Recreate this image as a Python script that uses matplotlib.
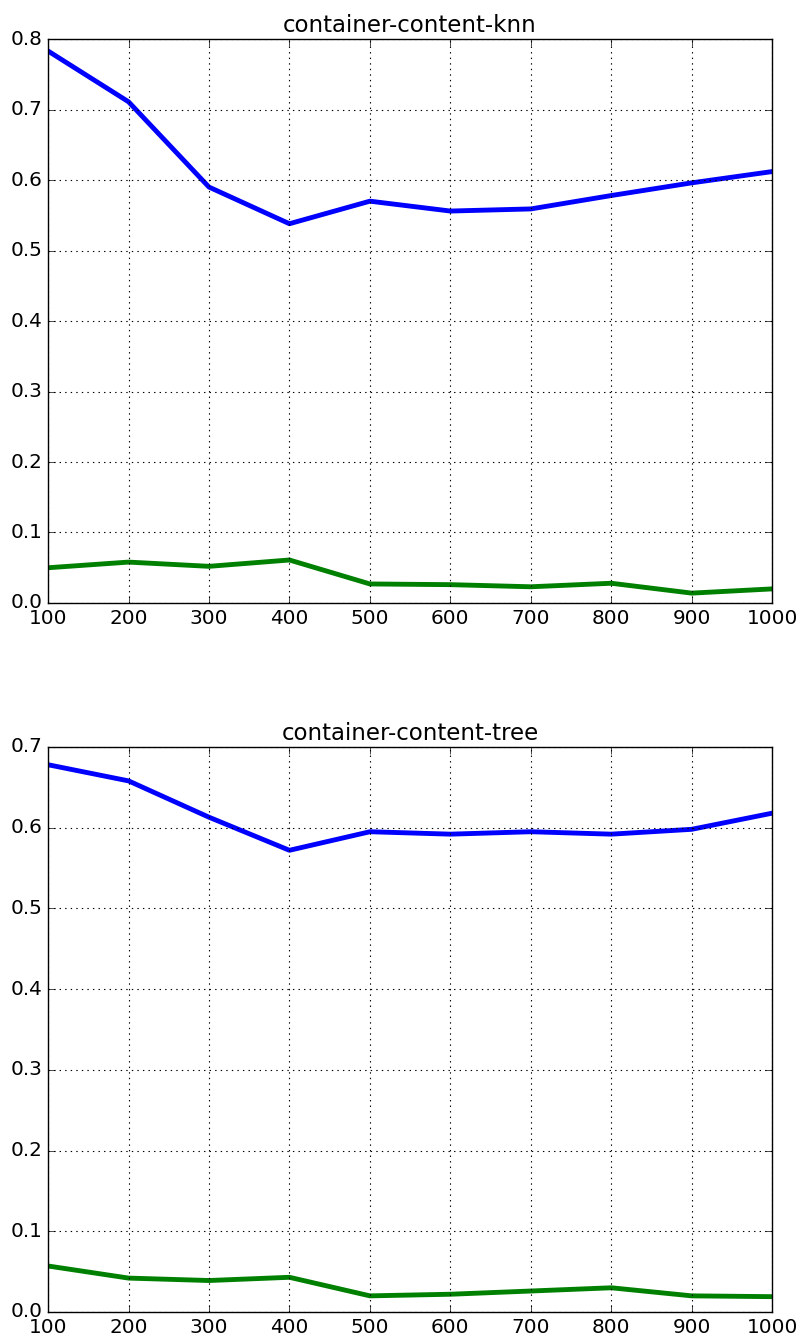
import numpy as np
import matplotlib
matplotlib.use("Agg")
import matplotlib.pyplot as plt

plt.style.use("classic")

sizes = [100, 200, 300, 400, 500, 600, 700, 800, 900, 1000]

knn_blue = [0.783, 0.711, 0.590, 0.538, 0.570, 0.556, 0.559, 0.578, 0.596, 0.612]
knn_green = [0.050, 0.058, 0.052, 0.061, 0.027, 0.026, 0.023, 0.028, 0.014, 0.020]

tree_blue = [0.678, 0.658, 0.613, 0.572, 0.595, 0.592, 0.595, 0.592, 0.598, 0.618]
tree_green = [0.057, 0.042, 0.039, 0.043, 0.020, 0.022, 0.026, 0.030, 0.020, 0.019]

fig = plt.figure(figsize=(8.01, 13.37), dpi=100, facecolor="white")
ax1 = fig.add_axes([0.060, 0.549, 0.904, 0.4218])
ax2 = fig.add_axes([0.060, 0.0187, 0.904, 0.4226])

for ax, blue, green, title, ymax in [
    (ax1, knn_blue, knn_green, "container-content-knn", 0.8),
    (ax2, tree_blue, tree_green, "container-content-tree", 0.7),
]:
    ax.plot(sizes, blue, color="b", linewidth=3.5)
    ax.plot(sizes, green, color="g", linewidth=3.5)
    ax.set_xlim(100, 1000)
    ax.set_ylim(0, ymax)
    ax.set_xticks(np.arange(100, 1001, 100))
    ax.set_yticks(np.arange(0, ymax + 0.001, 0.1))
    ax.grid(True, color="black", linestyle=(0, (1, 3)), linewidth=0.8)
    ax.set_title(title, fontsize=16.5)
    ax.tick_params(labelsize=14.4, length=5)

fig.savefig("out.png", dpi=100, facecolor="white")
